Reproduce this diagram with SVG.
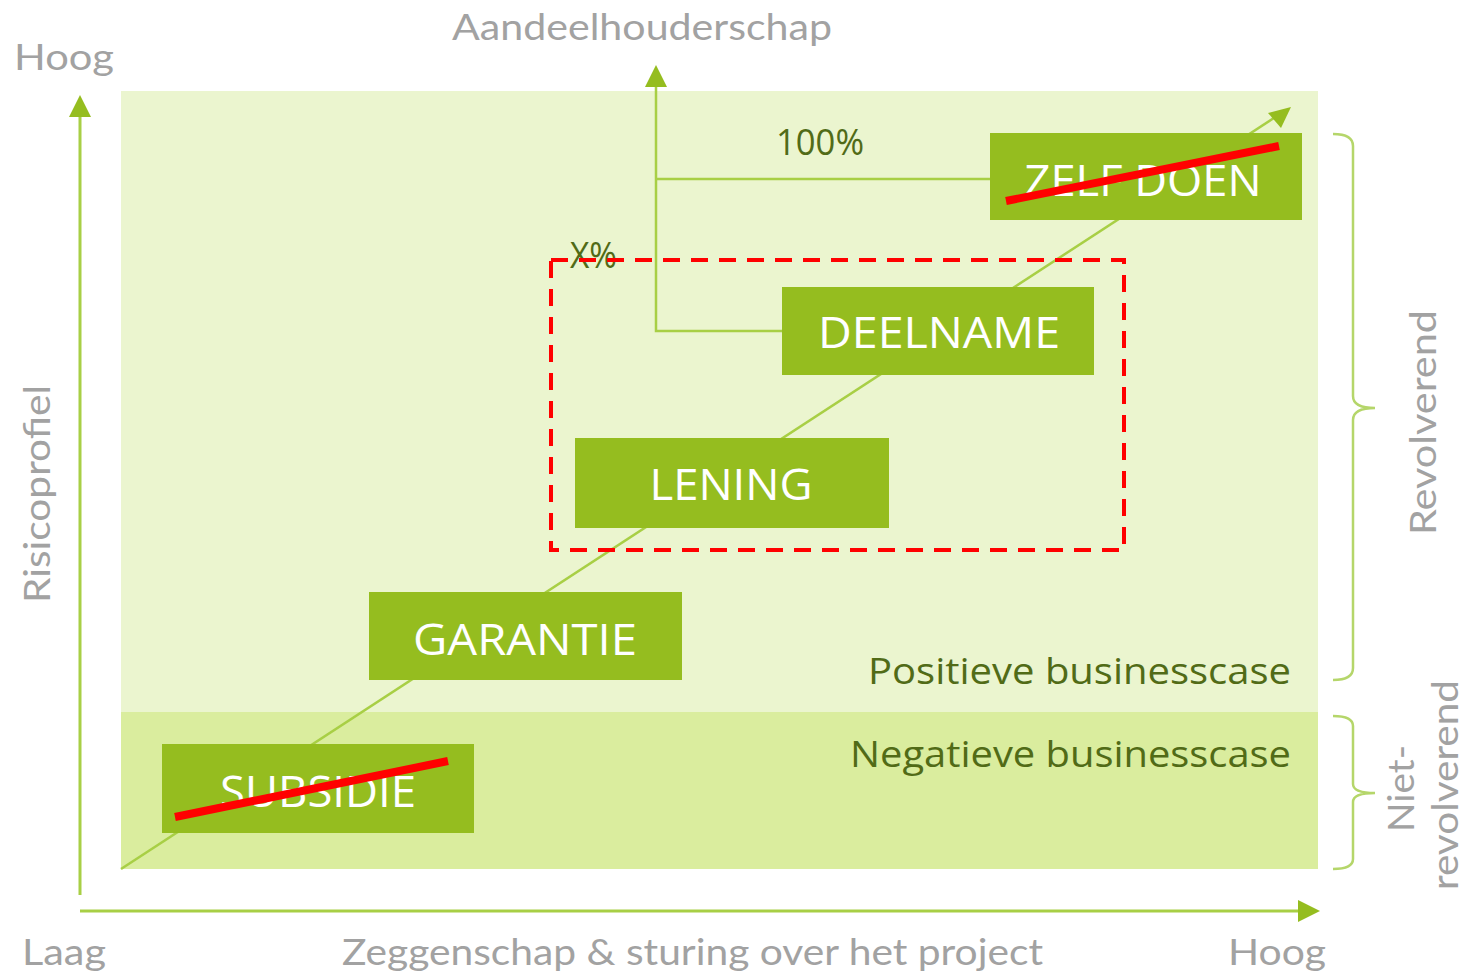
<svg xmlns="http://www.w3.org/2000/svg" width="1472" height="975" viewBox="0 0 1472 975">
<defs>
<style>
.grey{font-family:Lato,"Open Sans","Liberation Sans",sans-serif;font-weight:400;fill:#a2a2a2;font-size:37px}
.box{fill:#95bd1f}
.boxt{font-family:"Open Sans","Noto Sans","Liberation Sans",sans-serif;fill:#ffffff;font-size:44px;text-anchor:middle}
.olive{font-family:"Open Sans","Noto Sans","Liberation Sans",sans-serif;fill:#516b17;font-size:37px}
.gl{stroke:#a8cf45;stroke-width:2.5;fill:none}
.axis{stroke:#a8cf45;stroke-width:3;fill:none}
.strike{stroke:#ff0000;stroke-width:8;stroke-linecap:butt}
.brace{stroke:#b5d66a;stroke-width:2.5;fill:none}
.head{fill:#95bd1f}
</style>
</defs>
<rect width="1472" height="975" fill="#ffffff"/>
<g id="background">
<rect x="121" y="91" width="1197" height="621" fill="#ebf5cf"/>
<rect x="121" y="712" width="1197" height="157" fill="#daed9e"/>
</g>
<g id="connectors">
<line class="axis" x1="80" y1="895" x2="80" y2="112"/>
<polygon class="head" points="69,117 91,117 80,95"/>
<line class="axis" x1="80" y1="911" x2="1302" y2="911"/>
<polygon class="head" points="1298,900 1298,922 1320,911"/>
<line class="gl" x1="121" y1="869" x2="1280" y2="114"/>
<polygon class="head" points="1291,107 1268,113 1281,128"/>
<polyline class="gl" points="782,331 656,331 656,82"/>
<polygon class="head" points="645,87 667,87 656,65"/>
<line class="gl" x1="656" y1="179" x2="990" y2="179"/>
<path class="brace" d="M1333,134 Q1353,134 1353,146 L1353,396 Q1353,408 1375,408 Q1353,408 1353,420 L1353,668 Q1353,680 1333,680"/>
<path class="brace" d="M1333,716 Q1353,716 1353,726 L1353,784 Q1353,793 1375,793 Q1353,793 1353,802 L1353,859 Q1353,869 1333,869"/>
</g>
<g id="labels">
<text class="grey" x="14" y="70" textLength="100" lengthAdjust="spacingAndGlyphs">Hoog</text>
<text class="grey" x="452" y="40" textLength="380" lengthAdjust="spacingAndGlyphs">Aandeelhouderschap</text>
<text class="grey" x="22" y="965" textLength="84" lengthAdjust="spacingAndGlyphs">Laag</text>
<text class="grey" x="342" y="965" textLength="701" lengthAdjust="spacingAndGlyphs">Zeggenschap &amp; sturing over het project</text>
<text class="grey" x="1228" y="965" textLength="98" lengthAdjust="spacingAndGlyphs">Hoog</text>
<text class="grey" transform="translate(50,603) rotate(-90)" textLength="218" lengthAdjust="spacingAndGlyphs">Risicoprofiel</text>
<text class="grey" transform="translate(1436,535) rotate(-90)" textLength="225" lengthAdjust="spacingAndGlyphs">Revolverend</text>
<text class="grey" transform="translate(1414,832) rotate(-90)" textLength="87" lengthAdjust="spacingAndGlyphs">Niet-</text>
<text class="grey" transform="translate(1458,890) rotate(-90)" textLength="210" lengthAdjust="spacingAndGlyphs">revolverend</text>
<text class="olive" x="776" y="155" font-size="34" textLength="88" lengthAdjust="spacingAndGlyphs">100%</text>
<text class="olive" x="570" y="268" font-size="34" textLength="47" lengthAdjust="spacingAndGlyphs">X%</text>
<text class="olive" x="868" y="684" textLength="423" lengthAdjust="spacingAndGlyphs">Positieve businesscase</text>
<text class="olive" x="850" y="767" textLength="441" lengthAdjust="spacingAndGlyphs">Negatieve businesscase</text>
</g>
<g id="selection">
<rect x="551" y="260" width="573" height="290" fill="none" stroke="#ff0000" stroke-width="4" stroke-dasharray="17,11"/>
</g>
<g id="zelf-doen">
<rect class="box" x="990" y="133" width="312" height="87"/>
<text class="boxt" x="1143" y="196" textLength="237" lengthAdjust="spacingAndGlyphs">ZELF DOEN</text>
<line class="strike" x1="1006" y1="201" x2="1279" y2="146"/>
</g>
<g id="deelname">
<rect class="box" x="782" y="287" width="312" height="88"/>
<text class="boxt" x="939" y="348" textLength="242" lengthAdjust="spacingAndGlyphs">DEELNAME</text>
</g>
<g id="lening">
<rect class="box" x="575" y="438" width="314" height="90"/>
<text class="boxt" x="731" y="500" textLength="163" lengthAdjust="spacingAndGlyphs">LENING</text>
</g>
<g id="garantie">
<rect class="box" x="369" y="592" width="313" height="88"/>
<text class="boxt" x="525" y="655" textLength="224" lengthAdjust="spacingAndGlyphs">GARANTIE</text>
</g>
<g id="subsidie">
<rect class="box" x="162" y="744" width="312" height="89"/>
<text class="boxt" x="318" y="807" textLength="196" lengthAdjust="spacingAndGlyphs">SUBSIDIE</text>
<line class="strike" x1="175" y1="817" x2="448" y2="761"/>
</g>
</svg>
